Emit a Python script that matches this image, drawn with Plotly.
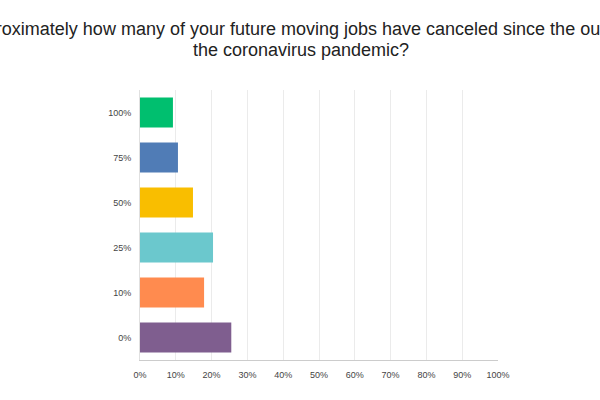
import plotly.graph_objects as go

categories = ["100%", "75%", "50%", "25%", "10%", "0%"]
values = [9.2, 10.6, 14.8, 20.4, 17.9, 25.5]
colors = ["#00BF6F", "#507CB6", "#F9BE00", "#6BC8CD", "#FF8B4F", "#7F5E8F"]
x_ticks = [0, 10, 20, 30, 40, 50, 60, 70, 80, 90, 100]
x_tick_labels = [f"{t}%" for t in x_ticks]
title_line1 = "Approximately how many of your future moving jobs have canceled since the outbreak of"
title_line2 = "the coronavirus pandemic?"

fig = go.Figure(go.Bar(
    x=values, y=categories, orientation="h",
    marker=dict(color=colors, line=dict(width=0)),
    hoverinfo="x+y",
))

fig.update_layout(
    width=600, height=400,
    margin=dict(l=140, r=102, t=90, b=40),
    paper_bgcolor="white", plot_bgcolor="white",
    bargap=0.333,
    showlegend=False,
    font=dict(family="Liberation Sans, Arial, sans-serif", color="#333333"),
    title=dict(text=title_line1, x=317 / 600, xref="container", xanchor="center",
               y=1 - 29 / 400, yref="container", yanchor="middle",
               font=dict(size=18, color="#222222")),
    annotations=[
        dict(text=title_line2, xref="paper", yref="paper", x=(301 - 140) / 358,
             y=(360 - 50) / 270, xanchor="center", yanchor="middle", showarrow=False,
             font=dict(size=18, color="#222222")),
    ],
)

fig.update_xaxes(
    range=[0, 100], tickvals=x_ticks, ticktext=x_tick_labels,
    showgrid=True, gridcolor="#EBEBEB", gridwidth=1,
    showline=True, linecolor="#CCCCCC", linewidth=1,
    zeroline=False, ticks="outside", ticklen=6, tickcolor="rgba(0,0,0,0)",
    tickfont=dict(size=9, color="#444444"), fixedrange=True,
)
fig.update_yaxes(
    categoryorder="array", categoryarray=categories, autorange="reversed",
    showgrid=False, showline=True, linecolor="#E0E0E0", linewidth=1,
    ticks="outside", ticklen=6, tickcolor="rgba(0,0,0,0)",
    tickfont=dict(size=9, color="#444444"), fixedrange=True,
)

fig.write_html("out.html")
